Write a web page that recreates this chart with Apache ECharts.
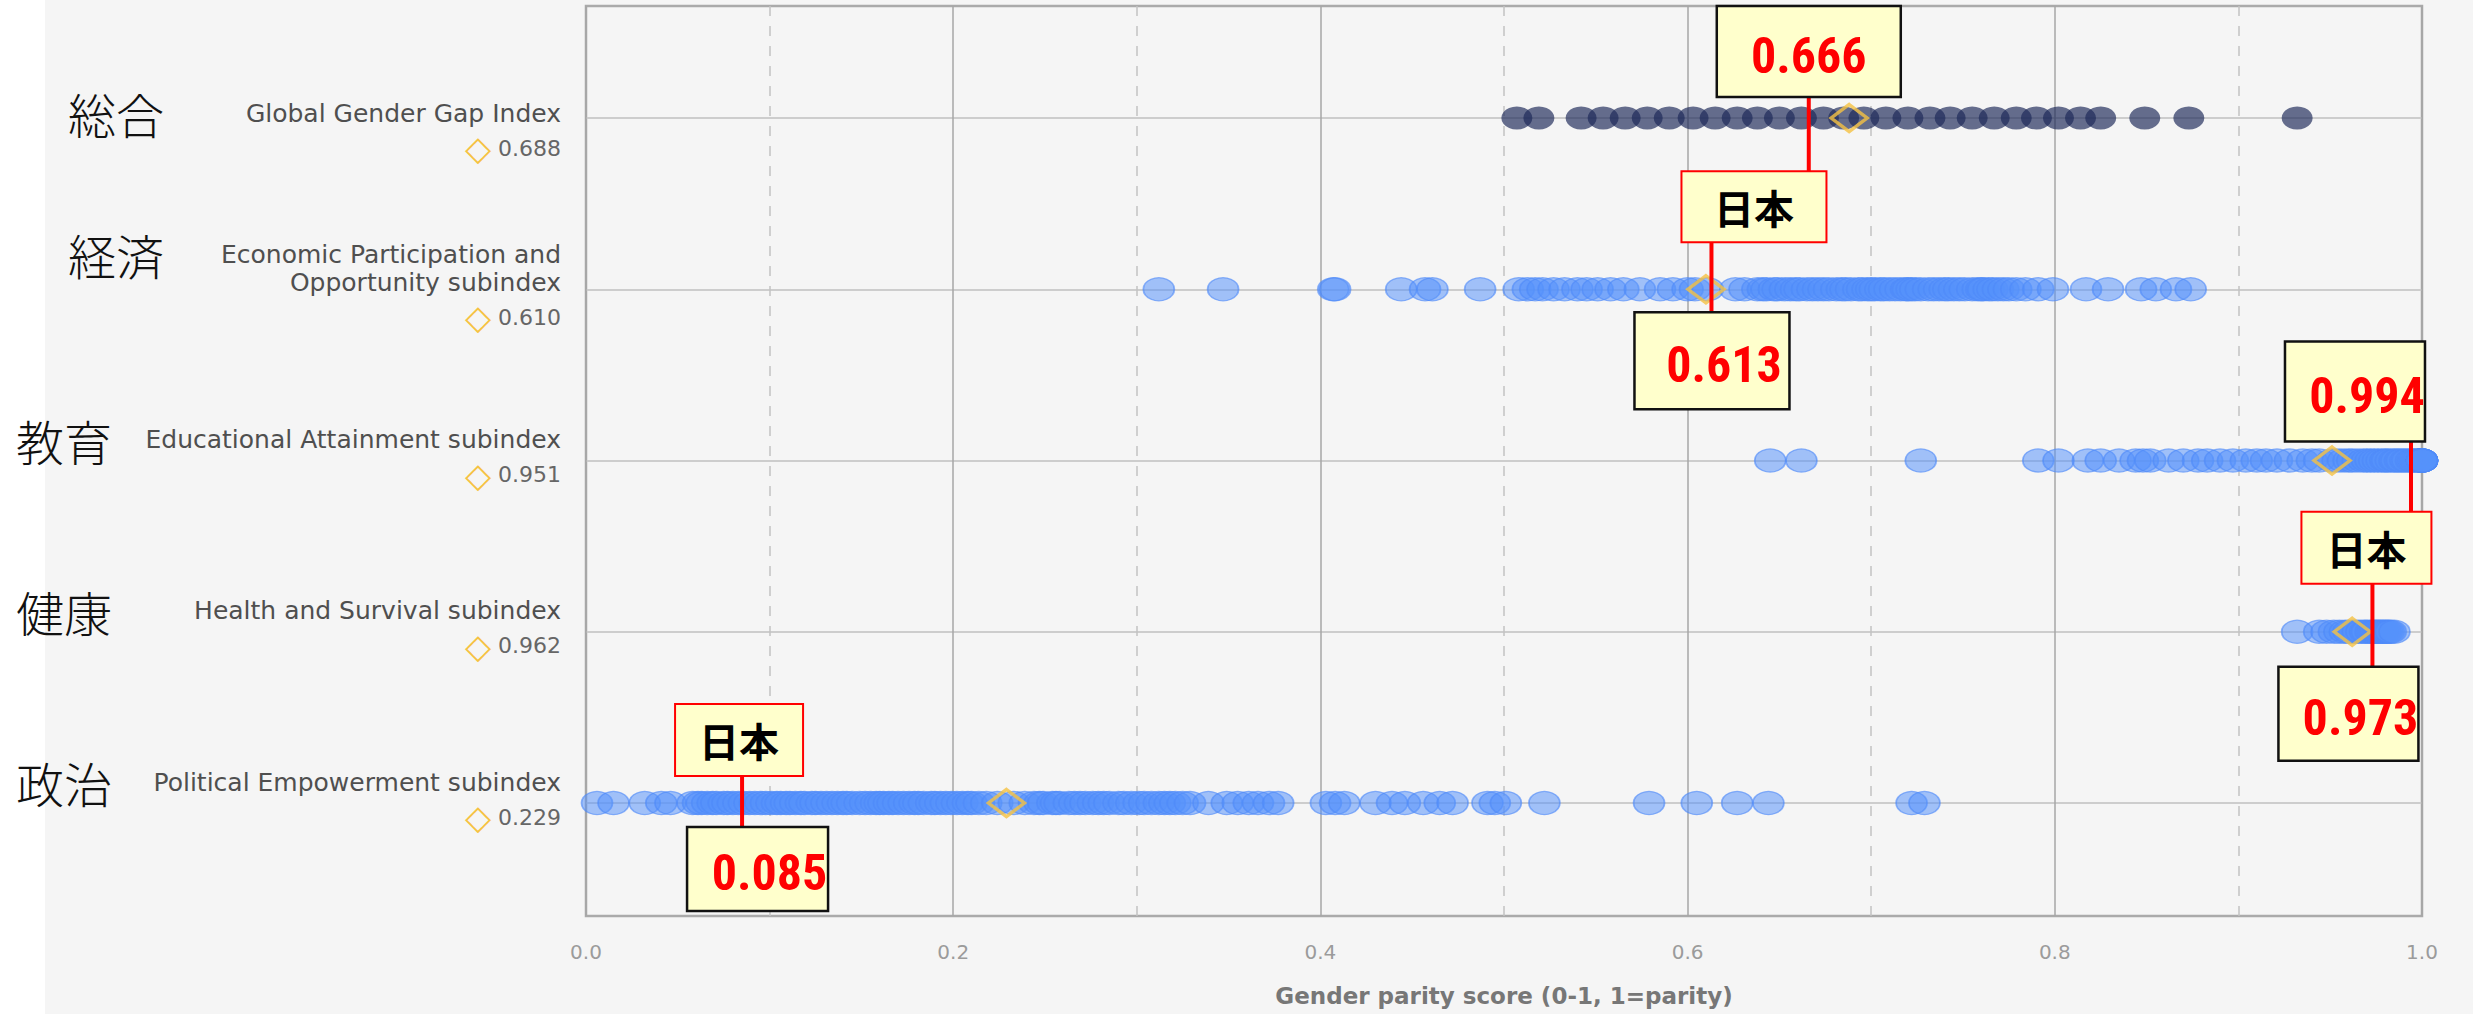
<!DOCTYPE html>
<html>
<head>
<meta charset="utf-8">
<title>Global Gender Gap Index - 日本</title>
<script src="https://cdn.jsdelivr.net/npm/echarts@6/dist/echarts.min.js"></script>
<style>
  html, body { margin: 0; padding: 0; background: #fff; }
  #chart { width: 2473px; height: 1014px; background: linear-gradient(to right, #fff 45px, #f5f5f5 45px); }
</style>
</head>
<body>
<div id="chart"></div>
<script>
// カテゴリ
const jpNames = ['総合', '経済', '教育', '健康', '政治'];
const enNames = [
  'Global Gender Gap Index',
  'Economic Participation and\nOpportunity subindex',
  'Educational Attainment subindex',
  'Health and Survival subindex',
  'Political Empowerment subindex'
];
// 平均 (◇) と日本のスコア
const avgScores = [0.688, 0.610, 0.951, 0.962, 0.229];
const japanScores = [0.666, 0.613, 0.994, 0.973, 0.085];
const xTickLabels = ['0.0', '0.2', '0.4', '0.6', '0.8', '1.0'];

// 各国のスコア
const gggScores = [0.507, 0.519, 0.542, 0.554, 0.566, 0.578, 0.590, 0.603, 0.615, 0.627,
  0.638, 0.650, 0.662, 0.674, 0.685, 0.696, 0.708, 0.720, 0.732, 0.743, 0.755, 0.767,
  0.779, 0.790, 0.802, 0.814, 0.825, 0.849, 0.873, 0.932];
const econScores = [0.312, 0.347, 0.407, 0.408, 0.444, 0.457, 0.461, 0.487, 0.508, 0.513,
  0.517, 0.521, 0.527, 0.533, 0.540, 0.545, 0.551, 0.558, 0.565, 0.574, 0.585, 0.592,
  0.600, 0.604, 0.611, 0.626, 0.631, 0.638, 0.641, 0.643, 0.647, 0.649, 0.653, 0.656,
  0.659, 0.661, 0.665, 0.668, 0.671, 0.674, 0.677, 0.681, 0.684, 0.686, 0.689, 0.693,
  0.695, 0.698, 0.700, 0.702, 0.705, 0.707, 0.710, 0.713, 0.716, 0.719, 0.720, 0.722,
  0.724, 0.727, 0.731, 0.734, 0.737, 0.740, 0.742, 0.745, 0.748, 0.751, 0.755, 0.758,
  0.760, 0.761, 0.764, 0.766, 0.769, 0.772, 0.775, 0.779, 0.784, 0.791, 0.799, 0.817,
  0.829, 0.847, 0.855, 0.866, 0.874];
const eduScores = [0.645, 0.662, 0.727, 0.791, 0.802, 0.818, 0.825, 0.835, 0.844, 0.848,
  0.852, 0.862, 0.870, 0.878, 0.883, 0.890, 0.897, 0.904, 0.910, 0.915, 0.921, 0.928,
  0.935, 0.940, 0.944, 0.951, 0.954, 0.957, 0.960, 0.962, 0.965, 0.968, 0.970, 0.972,
  0.974, 0.976, 0.978, 0.980, 0.981, 0.983, 0.985, 0.986, 0.988, 0.989, 0.991, 0.992,
  0.994, 0.995, 0.996, 0.997, 0.998, 0.999, 1.000, 1.000, 1.000, 1.000, 1.000, 1.000,
  1.000, 1.000, 1.000, 1.000];
const healthScores = [0.932, 0.944, 0.948, 0.952, 0.955, 0.958, 0.960, 0.963, 0.965, 0.967,
  0.969, 0.970, 0.972, 0.973, 0.974, 0.975, 0.976, 0.977, 0.978, 0.979, 0.980, 0.981,
  0.982, 0.983, 0.985];
const polScores = [0.006, 0.015, 0.032, 0.041, 0.046, 0.058, 0.061, 0.063, 0.066, 0.069,
  0.071, 0.075, 0.077, 0.080, 0.083, 0.086, 0.089, 0.092, 0.095, 0.098, 0.101, 0.104,
  0.106, 0.109, 0.111, 0.114, 0.117, 0.119, 0.123, 0.125, 0.128, 0.131, 0.134, 0.137,
  0.140, 0.142, 0.145, 0.149, 0.152, 0.155, 0.158, 0.160, 0.162, 0.165, 0.167, 0.170,
  0.173, 0.176, 0.179, 0.181, 0.184, 0.188, 0.190, 0.193, 0.196, 0.199, 0.202, 0.205,
  0.208, 0.210, 0.214, 0.218, 0.224, 0.233, 0.239, 0.244, 0.247, 0.249, 0.254, 0.256,
  0.258, 0.263, 0.266, 0.269, 0.272, 0.276, 0.279, 0.282, 0.285, 0.290, 0.293, 0.297,
  0.301, 0.304, 0.308, 0.312, 0.315, 0.318, 0.321, 0.325, 0.329, 0.339, 0.349, 0.355,
  0.361, 0.366, 0.372, 0.377, 0.403, 0.408, 0.413, 0.430, 0.439, 0.446, 0.456, 0.465,
  0.472, 0.491, 0.495, 0.501, 0.522, 0.579, 0.605, 0.627, 0.644, 0.722, 0.729];
const rowScores = [gggScores, econScores, eduScores, healthScores, polScores];

// 吹き出しの配置（日本の点からのピクセル差: [x, y, w, h]）
const calloutLayout = [
  { valueBox: [-92, -112, 184, 91], textDx: 0, toNext: true },
  { nihonBox: [-30, -118, 145, 71], valueBox: [-77, 23, 155, 97], textDx: 12 },
  { valueBox: [-126, -119, 140, 100], textDx: 12, toNext: true },
  { nihonBox: [-71, -120, 130, 72], valueBox: [-94, 35, 140, 94], textDx: 12 },
  { nihonBox: [-67, -99, 128, 72], valueBox: [-55, 24, 141, 84], textDx: 12 }
];

const numFont = "'Liberation Sans Narrow', 'Roboto Condensed', 'DejaVu Sans Condensed', 'Liberation Sans', sans-serif";
const jpFont = "'Noto Sans CJK JP', sans-serif";

const chart = echarts.init(document.getElementById('chart'), null, {renderer: 'svg'});

function enLabel(name, idx) {
  const lines = name.split('\n').map(s => '{en|' + s + '}');
  if (idx === 0) lines.unshift('{gap| }');
  lines.push('{dia|◇}{avg| ' + avgScores[idx].toFixed(3) + '}');
  return lines.join('\n');
}

// 日本語ラベルは英語ラベルの1行目に揃える
function jpLabel(name, idx) {
  const enLines = enNames[idx].split('\n');
  const lines = [];
  if (idx === 0) lines.push('{gap| }');
  lines.push((idx < 2 ? '{sp| }' : '') + '{jp|' + jpNames[idx] + '}');
  for (let k = 1; k < enLines.length; k++) lines.push('{en| }');
  lines.push('{d| }');
  return lines.join('\n');
}

function renderCallout(params, api) {
  const row = api.value(1);
  const pt = api.coord([api.value(0), row]);
  const px = pt[0], py = pt[1];
  const L = calloutLayout[row];
  const children = [];

  let y1, y2;
  if (L.toNext) {
    const nextPy = api.coord([0, row + 1])[1];
    y1 = py + L.valueBox[1] + L.valueBox[3];
    y2 = nextPy + calloutLayout[row + 1].nihonBox[1];
  } else {
    y1 = py + L.nihonBox[1] + L.nihonBox[3];
    y2 = py + L.valueBox[1];
  }
  children.push({
    type: 'line',
    shape: {x1: px, y1: y1, x2: px, y2: y2},
    style: {stroke: '#ff0000', lineWidth: 4}
  });

  const vb = L.valueBox;
  children.push({
    type: 'rect',
    shape: {x: px + vb[0], y: py + vb[1], width: vb[2], height: vb[3]},
    style: {fill: '#ffffcc', stroke: '#111', lineWidth: 2.5}
  });
  children.push({
    type: 'text',
    style: {
      text: japanScores[row].toFixed(3),
      x: px + vb[0] + vb[2] / 2 + L.textDx,
      y: py + vb[1] + vb[3] / 2 + 4,
      align: 'center', verticalAlign: 'middle',
      fill: '#ff0000', fontSize: 50, fontWeight: 'bold', fontFamily: numFont
    }
  });

  if (L.nihonBox) {
    const nb = L.nihonBox;
    children.push({
      type: 'rect',
      shape: {x: px + nb[0], y: py + nb[1], width: nb[2], height: nb[3]},
      style: {fill: '#ffffcc', stroke: '#ff0000', lineWidth: 2}
    });
    children.push({
      type: 'text',
      style: {
        text: '日本',
        x: px + nb[0] + nb[2] / 2,
        y: py + nb[1] + nb[3] / 2,
        align: 'center', verticalAlign: 'middle',
        fill: '#000', fontSize: 40, fontWeight: 'bold', fontFamily: jpFont
      }
    });
  }
  return {type: 'group', children: children};
}

chart.setOption({
  animation: false,
  grid: [
    // 枠と目盛り
    {left: 586, right: 51, top: 6, bottom: 98, outerBoundsMode: 'none', containLabel: false,
      show: true, borderColor: '#aaaaaa', borderWidth: 2.5, backgroundColor: 'transparent'},
    // 行（各指標）
    {left: 586, right: 51, top: 118, bottom: 211, outerBoundsMode: 'none', containLabel: false}
  ],
  xAxis: [
    {
      gridIndex: 0, type: 'value', min: 0, max: 1, interval: 0.2,
      name: 'Gender parity score (0-1, 1=parity)',
      nameLocation: 'middle', nameGap: 68,
      nameTextStyle: {fontFamily: 'DejaVu Sans', fontWeight: 'bold', fontSize: 23, color: '#777'},
      axisLine: {show: false},
      axisTick: {show: false},
      axisLabel: {
        margin: 26, fontFamily: 'DejaVu Sans', fontSize: 20, color: '#9b9b9b',
        formatter: v => xTickLabels[Math.round(v / 0.2)]
      },
      splitLine: {show: true, lineStyle: {color: '#a6a6a6', width: 1.5}},
      minorTick: {show: false, splitNumber: 2},
      minorSplitLine: {show: true, lineStyle: {color: '#c2c2c2', width: 1.5, type: [10, 10]}}
    },
    {gridIndex: 1, type: 'value', min: 0, max: 1, show: false}
  ],
  yAxis: [
    {gridIndex: 0, type: 'value', show: false},
    {
      gridIndex: 1, type: 'category', position: 'left', offset: 0,
      data: enNames, inverse: true, boundaryGap: false,
      axisLine: {show: false}, axisTick: {show: false},
      splitLine: {show: true, lineStyle: {color: '#cdcdcd', width: 2}},
      axisLabel: {
        margin: 25, interval: 0,
        formatter: enLabel,
        rich: {
          gap: {fontSize: 10, lineHeight: 32},
          en: {fontFamily: 'DejaVu Sans', fontSize: 25, color: '#4f4f4f', lineHeight: 28},
          dia: {fontFamily: 'DejaVu Sans', fontSize: 34, color: '#f5c242', lineHeight: 42},
          avg: {fontFamily: 'DejaVu Sans', fontSize: 22, color: '#666', lineHeight: 42}
        }
      }
    },
    {
      gridIndex: 1, type: 'category', position: 'left', offset: 0,
      data: jpNames, inverse: true, boundaryGap: false,
      axisLine: {show: false}, axisTick: {show: false}, splitLine: {show: false},
      axisLabel: {
        margin: 570, align: 'left', interval: 0,
        formatter: jpLabel,
        rich: {
          gap: {fontSize: 10, lineHeight: 32},
          sp: {width: 52, fontSize: 10},
          jp: {fontFamily: jpFont, fontSize: 48, fontWeight: 300, color: '#111', lineHeight: 28},
          en: {fontSize: 10, lineHeight: 28},
          d: {fontSize: 10, lineHeight: 42}
        }
      }
    }
  ],
  series: rowScores.map((arr, row) => ({
    type: 'scatter', xAxisIndex: 1, yAxisIndex: 1, silent: true, z: 2,
    symbol: 'circle', symbolSize: [31, 23],
    itemStyle: row === 0
      ? {color: 'rgba(28, 40, 88, 0.84)'}
      : {color: 'rgba(85, 145, 252, 0.66)', borderColor: 'rgba(78, 138, 248, 0.8)', borderWidth: 1.5},
    data: arr.map(v => [v, row])
  })).concat([
    {
      type: 'scatter', xAxisIndex: 1, yAxisIndex: 1, silent: true, z: 3,
      symbol: 'diamond', symbolSize: [36, 27],
      itemStyle: {color: 'rgba(0,0,0,0)', borderColor: '#f5c242', borderWidth: 3.5},
      data: avgScores.map((v, i) => [v, i])
    },
    {
      type: 'custom', xAxisIndex: 1, yAxisIndex: 1, silent: true, z: 4, clip: false,
      renderItem: renderCallout,
      data: japanScores.map((v, i) => [v, i])
    }
  ])
});
</script>
</body>
</html>
